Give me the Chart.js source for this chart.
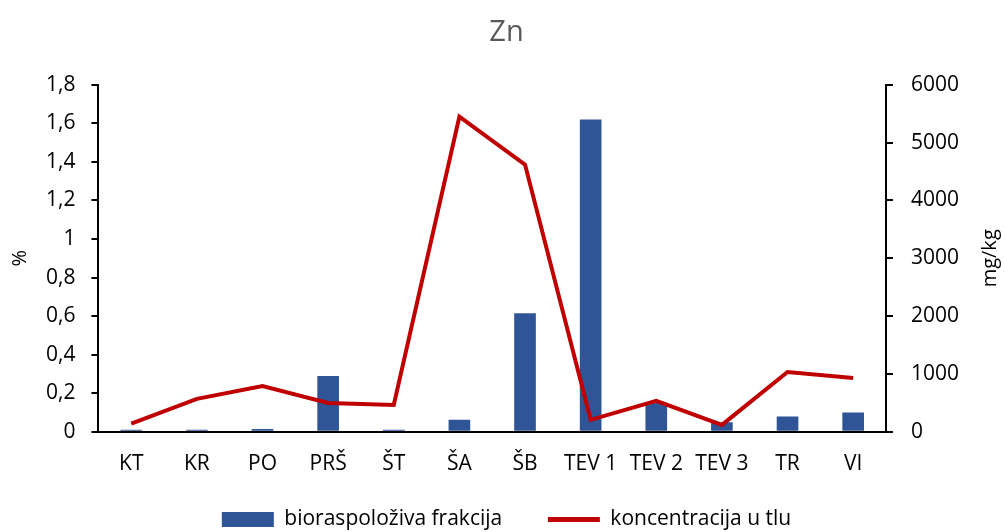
<!DOCTYPE html>
<html lang="hr">
<head>
    <meta charset="UTF-8">
    <title>Zn</title>
    <style>
        body { margin: 0; background: #fff; }
        #wrap { width: 1005px; height: 532px; }
    </style>
</head>
<body>
    <div id="wrap"><canvas id="znChart"></canvas></div>

    <script src="https://cdn.jsdelivr.net/npm/chart.js"></script>
    <script>
        // podaci
        const lokacije = ['KT', 'KR', 'PO', 'PRŠ', 'ŠT', 'ŠA', 'ŠB', 'TEV 1', 'TEV 2', 'TEV 3', 'TR', 'VI'];
        const bioraspolozivo = [0.01, 0.01, 0.015, 0.29, 0.01, 0.062, 0.615, 1.62, 0.15, 0.05, 0.08, 0.1];
        const koncentracija = [140, 570, 790, 500, 465, 5450, 4620, 207, 534, 120, 1034, 931];

        const fontFam = "'Open Sans', 'Liberation Sans', sans-serif";

        // naslovi osi (oba se čitaju odozdo prema gore)
        const axisTitles = {
            id: 'axisTitles',
            afterDraw(chart) {
                const ctx = chart.ctx;
                const mid = (chart.chartArea.top + chart.chartArea.bottom) / 2;
                ctx.save();
                ctx.fillStyle = '#000';
                ctx.font = '20px ' + fontFam;
                ctx.textAlign = 'center';
                ctx.textBaseline = 'middle';
                [[20, '%'], [990, 'mg/kg']].forEach(([x, txt]) => {
                    ctx.save();
                    ctx.translate(x, mid);
                    ctx.rotate(-Math.PI / 2);
                    ctx.fillText(txt, 0, 0);
                    ctx.restore();
                });
                ctx.restore();
            }
        };

        const ctx = document.getElementById('znChart').getContext('2d');
        new Chart(ctx, {
            data: {
                labels: lokacije,
                datasets: [{
                    type: 'line',
                    label: 'koncentracija u tlu',
                    data: koncentracija,
                    yAxisID: 'y1',
                    borderColor: '#C00000',
                    backgroundColor: '#C00000',
                    borderWidth: 4,
                    pointRadius: 0,
                    tension: 0,
                    order: 0
                }, {
                    type: 'bar',
                    label: 'bioraspoloživa frakcija',
                    data: bioraspolozivo,
                    yAxisID: 'y',
                    backgroundColor: '#2F5597',
                    barPercentage: 0.33,
                    categoryPercentage: 1,
                    order: 1
                }]
            },
            options: {
                responsive: true,
                maintainAspectRatio: false,
                animation: false,
                layout: { padding: { left: 30, right: 22, top: 0, bottom: -8 } },
                plugins: {
                    title: {
                        display: true,
                        text: 'Zn',
                        color: '#595959',
                        font: { family: fontFam, size: 29, weight: 'normal' },
                        padding: { top: 15, bottom: 35 }
                    },
                    legend: {
                        position: 'bottom',
                        reverse: true,
                        labels: {
                            color: '#000',
                            font: { family: fontFam, size: 21 },
                            usePointStyle: true,
                            pointStyleWidth: 52,
                            boxHeight: 15,
                            padding: 2,
                            generateLabels(chart) {
                                const items = Chart.defaults.plugins.legend.labels.generateLabels(chart);
                                items.forEach(it => {
                                    if (it.datasetIndex === 0) {
                                        it.pointStyle = 'line';
                                        it.lineWidth = 5;
                                        it.strokeStyle = '#C00000';
                                    } else {
                                        it.pointStyle = 'rect';
                                        it.lineWidth = 0;
                                        it.text += '\u00a0'.repeat(8);
                                    }
                                });
                                return items;
                            }
                        }
                    },
                    tooltip: { enabled: false }
                },
                scales: {
                    x: {
                        grid: { display: false },
                        border: { color: '#000', width: 2 },
                        ticks: { color: '#000', font: { family: fontFam, size: 21 }, padding: 12, maxRotation: 0 },
                        afterFit: s => { s.height += 18; }
                    },
                    y: {
                        position: 'left',
                        min: 0,
                        max: 1.8,
                        ticks: {
                            stepSize: 0.2,
                            color: '#000',
                            font: { family: fontFam, size: 21 },
                            padding: 16,
                            callback: v => String(Math.round(v * 10) / 10).replace('.', ',')
                        },
                        grid: { drawOnChartArea: false, color: '#000', tickLength: 7, lineWidth: 2 },
                        border: { color: '#000', width: 2 }
                    },
                    y1: {
                        position: 'right',
                        min: 0,
                        max: 6000,
                        ticks: {
                            stepSize: 1000,
                            color: '#000',
                            font: { family: fontFam, size: 21 },
                            padding: 18,
                            callback: v => String(v)
                        },
                        grid: { drawOnChartArea: false, color: '#000', tickLength: 7, lineWidth: 2 },
                        border: { color: '#000', width: 2 },
                        afterFit: s => { s.width += 6; }
                    }
                }
            },
            plugins: [axisTitles]
        });
    </script>
</body>
</html>
